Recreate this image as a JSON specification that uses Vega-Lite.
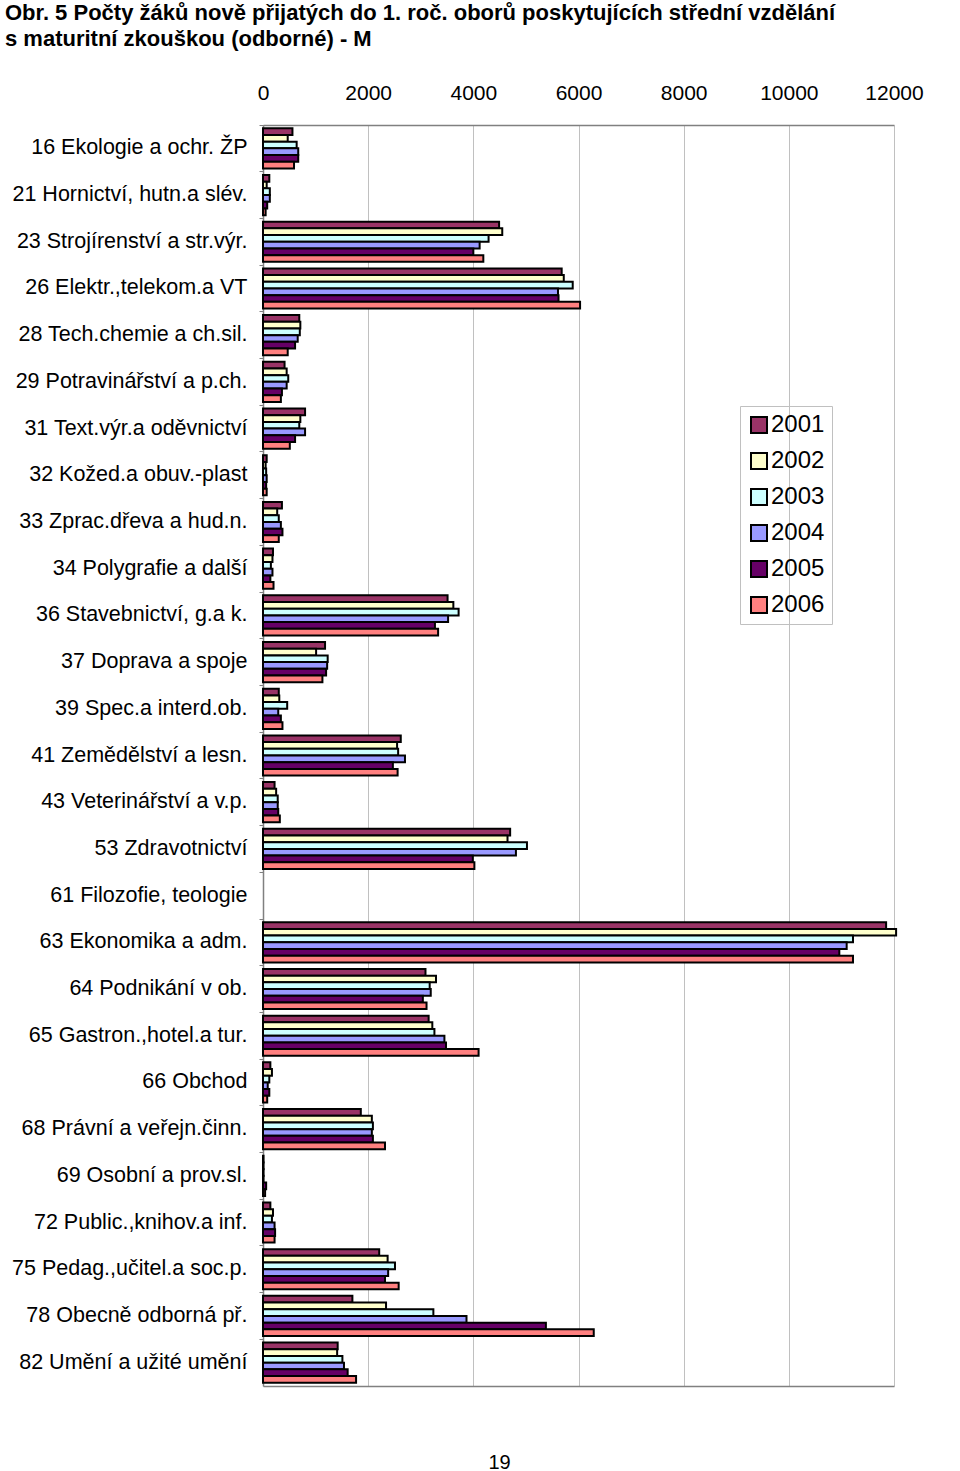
{
  "$schema": "https://vega.github.io/schema/vega-lite/v6.json",
  "width": 631,
  "height": 1261,
  "autosize": {"type": "none"},
  "padding": {"left": 263, "top": 125, "right": 66, "bottom": 85},
  "background": "white",
  "title": {
    "text": ["Obr. 5  Počty žáků nově přijatých do 1. roč. oborů poskytujících střední vzdělání", "s maturitní zkouškou (odborné) - M"],
    "anchor": "start",
    "frame": "group",
    "font": "Liberation Sans",
    "fontSize": 22,
    "fontWeight": "bold",
    "color": "black",
    "lineHeight": 26,
    "dx": -258,
    "offset": 31
  },
  "config": {
    "view": {"stroke": null},
    "axis": {"labelFont": "Liberation Sans", "labelColor": "black", "titleFont": "Liberation Sans"},
    "legend": {"labelFont": "Liberation Sans"}
  },
  "data": {
    "values": [
      {"obor": "16 Ekologie a ochr. ŽP", "rok": "2001", "pocet": 560},
      {"obor": "16 Ekologie a ochr. ŽP", "rok": "2002", "pocet": 470},
      {"obor": "16 Ekologie a ochr. ŽP", "rok": "2003", "pocet": 640},
      {"obor": "16 Ekologie a ochr. ŽP", "rok": "2004", "pocet": 670},
      {"obor": "16 Ekologie a ochr. ŽP", "rok": "2005", "pocet": 670},
      {"obor": "16 Ekologie a ochr. ŽP", "rok": "2006", "pocet": 590},
      {"obor": "21 Hornictví, hutn.a slév.", "rok": "2001", "pocet": 120},
      {"obor": "21 Hornictví, hutn.a slév.", "rok": "2002", "pocet": 70},
      {"obor": "21 Hornictví, hutn.a slév.", "rok": "2003", "pocet": 130},
      {"obor": "21 Hornictví, hutn.a slév.", "rok": "2004", "pocet": 130},
      {"obor": "21 Hornictví, hutn.a slév.", "rok": "2005", "pocet": 80},
      {"obor": "21 Hornictví, hutn.a slév.", "rok": "2006", "pocet": 50},
      {"obor": "23 Strojírenství a str.výr.", "rok": "2001", "pocet": 4490},
      {"obor": "23 Strojírenství a str.výr.", "rok": "2002", "pocet": 4550},
      {"obor": "23 Strojírenství a str.výr.", "rok": "2003", "pocet": 4290},
      {"obor": "23 Strojírenství a str.výr.", "rok": "2004", "pocet": 4120},
      {"obor": "23 Strojírenství a str.výr.", "rok": "2005", "pocet": 4000},
      {"obor": "23 Strojírenství a str.výr.", "rok": "2006", "pocet": 4190},
      {"obor": "26 Elektr.,telekom.a VT", "rok": "2001", "pocet": 5680},
      {"obor": "26 Elektr.,telekom.a VT", "rok": "2002", "pocet": 5720},
      {"obor": "26 Elektr.,telekom.a VT", "rok": "2003", "pocet": 5890},
      {"obor": "26 Elektr.,telekom.a VT", "rok": "2004", "pocet": 5610},
      {"obor": "26 Elektr.,telekom.a VT", "rok": "2005", "pocet": 5620},
      {"obor": "26 Elektr.,telekom.a VT", "rok": "2006", "pocet": 6030},
      {"obor": "28 Tech.chemie a ch.sil.", "rok": "2001", "pocet": 690},
      {"obor": "28 Tech.chemie a ch.sil.", "rok": "2002", "pocet": 710},
      {"obor": "28 Tech.chemie a ch.sil.", "rok": "2003", "pocet": 700},
      {"obor": "28 Tech.chemie a ch.sil.", "rok": "2004", "pocet": 660},
      {"obor": "28 Tech.chemie a ch.sil.", "rok": "2005", "pocet": 610},
      {"obor": "28 Tech.chemie a ch.sil.", "rok": "2006", "pocet": 470},
      {"obor": "29 Potravinářství a p.ch.", "rok": "2001", "pocet": 410},
      {"obor": "29 Potravinářství a p.ch.", "rok": "2002", "pocet": 450},
      {"obor": "29 Potravinářství a p.ch.", "rok": "2003", "pocet": 480},
      {"obor": "29 Potravinářství a p.ch.", "rok": "2004", "pocet": 450},
      {"obor": "29 Potravinářství a p.ch.", "rok": "2005", "pocet": 360},
      {"obor": "29 Potravinářství a p.ch.", "rok": "2006", "pocet": 340},
      {"obor": "31 Text.výr.a oděvnictví", "rok": "2001", "pocet": 800},
      {"obor": "31 Text.výr.a oděvnictví", "rok": "2002", "pocet": 710},
      {"obor": "31 Text.výr.a oděvnictví", "rok": "2003", "pocet": 690},
      {"obor": "31 Text.výr.a oděvnictví", "rok": "2004", "pocet": 800},
      {"obor": "31 Text.výr.a oděvnictví", "rok": "2005", "pocet": 610},
      {"obor": "31 Text.výr.a oděvnictví", "rok": "2006", "pocet": 510},
      {"obor": "32 Kožed.a obuv.-plast", "rok": "2001", "pocet": 70},
      {"obor": "32 Kožed.a obuv.-plast", "rok": "2002", "pocet": 50},
      {"obor": "32 Kožed.a obuv.-plast", "rok": "2003", "pocet": 60},
      {"obor": "32 Kožed.a obuv.-plast", "rok": "2004", "pocet": 70},
      {"obor": "32 Kožed.a obuv.-plast", "rok": "2005", "pocet": 60},
      {"obor": "32 Kožed.a obuv.-plast", "rok": "2006", "pocet": 70},
      {"obor": "33 Zprac.dřeva a hud.n.", "rok": "2001", "pocet": 360},
      {"obor": "33 Zprac.dřeva a hud.n.", "rok": "2002", "pocet": 270},
      {"obor": "33 Zprac.dřeva a hud.n.", "rok": "2003", "pocet": 300},
      {"obor": "33 Zprac.dřeva a hud.n.", "rok": "2004", "pocet": 340},
      {"obor": "33 Zprac.dřeva a hud.n.", "rok": "2005", "pocet": 370},
      {"obor": "33 Zprac.dřeva a hud.n.", "rok": "2006", "pocet": 300},
      {"obor": "34 Polygrafie a další", "rok": "2001", "pocet": 190},
      {"obor": "34 Polygrafie a další", "rok": "2002", "pocet": 180},
      {"obor": "34 Polygrafie a další", "rok": "2003", "pocet": 150},
      {"obor": "34 Polygrafie a další", "rok": "2004", "pocet": 180},
      {"obor": "34 Polygrafie a další", "rok": "2005", "pocet": 140},
      {"obor": "34 Polygrafie a další", "rok": "2006", "pocet": 200},
      {"obor": "36 Stavebnictví, g.a k.", "rok": "2001", "pocet": 3510},
      {"obor": "36 Stavebnictví, g.a k.", "rok": "2002", "pocet": 3620},
      {"obor": "36 Stavebnictví, g.a k.", "rok": "2003", "pocet": 3720},
      {"obor": "36 Stavebnictví, g.a k.", "rok": "2004", "pocet": 3520},
      {"obor": "36 Stavebnictví, g.a k.", "rok": "2005", "pocet": 3270},
      {"obor": "36 Stavebnictví, g.a k.", "rok": "2006", "pocet": 3330},
      {"obor": "37 Doprava a spoje", "rok": "2001", "pocet": 1180},
      {"obor": "37 Doprava a spoje", "rok": "2002", "pocet": 1010},
      {"obor": "37 Doprava a spoje", "rok": "2003", "pocet": 1230},
      {"obor": "37 Doprava a spoje", "rok": "2004", "pocet": 1220},
      {"obor": "37 Doprava a spoje", "rok": "2005", "pocet": 1200},
      {"obor": "37 Doprava a spoje", "rok": "2006", "pocet": 1130},
      {"obor": "39 Spec.a interd.ob.", "rok": "2001", "pocet": 300},
      {"obor": "39 Spec.a interd.ob.", "rok": "2002", "pocet": 310},
      {"obor": "39 Spec.a interd.ob.", "rok": "2003", "pocet": 460},
      {"obor": "39 Spec.a interd.ob.", "rok": "2004", "pocet": 290},
      {"obor": "39 Spec.a interd.ob.", "rok": "2005", "pocet": 340},
      {"obor": "39 Spec.a interd.ob.", "rok": "2006", "pocet": 370},
      {"obor": "41 Zemědělství a lesn.", "rok": "2001", "pocet": 2620},
      {"obor": "41 Zemědělství a lesn.", "rok": "2002", "pocet": 2550},
      {"obor": "41 Zemědělství a lesn.", "rok": "2003", "pocet": 2570},
      {"obor": "41 Zemědělství a lesn.", "rok": "2004", "pocet": 2700},
      {"obor": "41 Zemědělství a lesn.", "rok": "2005", "pocet": 2470},
      {"obor": "41 Zemědělství a lesn.", "rok": "2006", "pocet": 2560},
      {"obor": "43 Veterinářství a v.p.", "rok": "2001", "pocet": 220},
      {"obor": "43 Veterinářství a v.p.", "rok": "2002", "pocet": 250},
      {"obor": "43 Veterinářství a v.p.", "rok": "2003", "pocet": 280},
      {"obor": "43 Veterinářství a v.p.", "rok": "2004", "pocet": 280},
      {"obor": "43 Veterinářství a v.p.", "rok": "2005", "pocet": 290},
      {"obor": "43 Veterinářství a v.p.", "rok": "2006", "pocet": 320},
      {"obor": "53 Zdravotnictví", "rok": "2001", "pocet": 4700},
      {"obor": "53 Zdravotnictví", "rok": "2002", "pocet": 4650},
      {"obor": "53 Zdravotnictví", "rok": "2003", "pocet": 5020},
      {"obor": "53 Zdravotnictví", "rok": "2004", "pocet": 4810},
      {"obor": "53 Zdravotnictví", "rok": "2005", "pocet": 3990},
      {"obor": "53 Zdravotnictví", "rok": "2006", "pocet": 4020},
      {"obor": "63 Ekonomika a adm.", "rok": "2001", "pocet": 11850},
      {"obor": "63 Ekonomika a adm.", "rok": "2002", "pocet": 12040},
      {"obor": "63 Ekonomika a adm.", "rok": "2003", "pocet": 11220},
      {"obor": "63 Ekonomika a adm.", "rok": "2004", "pocet": 11100},
      {"obor": "63 Ekonomika a adm.", "rok": "2005", "pocet": 10960},
      {"obor": "63 Ekonomika a adm.", "rok": "2006", "pocet": 11220},
      {"obor": "64 Podnikání v ob.", "rok": "2001", "pocet": 3090},
      {"obor": "64 Podnikání v ob.", "rok": "2002", "pocet": 3290},
      {"obor": "64 Podnikání v ob.", "rok": "2003", "pocet": 3170},
      {"obor": "64 Podnikání v ob.", "rok": "2004", "pocet": 3190},
      {"obor": "64 Podnikání v ob.", "rok": "2005", "pocet": 3040},
      {"obor": "64 Podnikání v ob.", "rok": "2006", "pocet": 3110},
      {"obor": "65 Gastron.,hotel.a tur.", "rok": "2001", "pocet": 3150},
      {"obor": "65 Gastron.,hotel.a tur.", "rok": "2002", "pocet": 3220},
      {"obor": "65 Gastron.,hotel.a tur.", "rok": "2003", "pocet": 3260},
      {"obor": "65 Gastron.,hotel.a tur.", "rok": "2004", "pocet": 3450},
      {"obor": "65 Gastron.,hotel.a tur.", "rok": "2005", "pocet": 3480},
      {"obor": "65 Gastron.,hotel.a tur.", "rok": "2006", "pocet": 4100},
      {"obor": "66 Obchod", "rok": "2001", "pocet": 140},
      {"obor": "66 Obchod", "rok": "2002", "pocet": 170},
      {"obor": "66 Obchod", "rok": "2003", "pocet": 120},
      {"obor": "66 Obchod", "rok": "2004", "pocet": 90},
      {"obor": "66 Obchod", "rok": "2005", "pocet": 120},
      {"obor": "66 Obchod", "rok": "2006", "pocet": 80},
      {"obor": "68 Právní a veřejn.činn.", "rok": "2001", "pocet": 1860},
      {"obor": "68 Právní a veřejn.činn.", "rok": "2002", "pocet": 2070},
      {"obor": "68 Právní a veřejn.činn.", "rok": "2003", "pocet": 2090},
      {"obor": "68 Právní a veřejn.činn.", "rok": "2004", "pocet": 2070},
      {"obor": "68 Právní a veřejn.činn.", "rok": "2005", "pocet": 2090},
      {"obor": "68 Právní a veřejn.činn.", "rok": "2006", "pocet": 2320},
      {"obor": "69 Osobní a prov.sl.", "rok": "2001", "pocet": 10},
      {"obor": "69 Osobní a prov.sl.", "rok": "2002", "pocet": 10},
      {"obor": "69 Osobní a prov.sl.", "rok": "2003", "pocet": 10},
      {"obor": "69 Osobní a prov.sl.", "rok": "2004", "pocet": 10},
      {"obor": "69 Osobní a prov.sl.", "rok": "2005", "pocet": 60},
      {"obor": "69 Osobní a prov.sl.", "rok": "2006", "pocet": 40},
      {"obor": "72 Public.,knihov.a inf.", "rok": "2001", "pocet": 140},
      {"obor": "72 Public.,knihov.a inf.", "rok": "2002", "pocet": 190},
      {"obor": "72 Public.,knihov.a inf.", "rok": "2003", "pocet": 170},
      {"obor": "72 Public.,knihov.a inf.", "rok": "2004", "pocet": 220},
      {"obor": "72 Public.,knihov.a inf.", "rok": "2005", "pocet": 230},
      {"obor": "72 Public.,knihov.a inf.", "rok": "2006", "pocet": 220},
      {"obor": "75 Pedag.,učitel.a soc.p.", "rok": "2001", "pocet": 2210},
      {"obor": "75 Pedag.,učitel.a soc.p.", "rok": "2002", "pocet": 2370},
      {"obor": "75 Pedag.,učitel.a soc.p.", "rok": "2003", "pocet": 2510},
      {"obor": "75 Pedag.,učitel.a soc.p.", "rok": "2004", "pocet": 2380},
      {"obor": "75 Pedag.,učitel.a soc.p.", "rok": "2005", "pocet": 2320},
      {"obor": "75 Pedag.,učitel.a soc.p.", "rok": "2006", "pocet": 2580},
      {"obor": "78 Obecně odborná př.", "rok": "2001", "pocet": 1700},
      {"obor": "78 Obecně odborná př.", "rok": "2002", "pocet": 2340},
      {"obor": "78 Obecně odborná př.", "rok": "2003", "pocet": 3240},
      {"obor": "78 Obecně odborná př.", "rok": "2004", "pocet": 3870},
      {"obor": "78 Obecně odborná př.", "rok": "2005", "pocet": 5380},
      {"obor": "78 Obecně odborná př.", "rok": "2006", "pocet": 6290},
      {"obor": "82 Umění a užité umění", "rok": "2001", "pocet": 1420},
      {"obor": "82 Umění a užité umění", "rok": "2002", "pocet": 1410},
      {"obor": "82 Umění a užité umění", "rok": "2003", "pocet": 1510},
      {"obor": "82 Umění a užité umění", "rok": "2004", "pocet": 1540},
      {"obor": "82 Umění a užité umění", "rok": "2005", "pocet": 1610},
      {"obor": "82 Umění a užité umění", "rok": "2006", "pocet": 1770}
    ]
  },
  "layer": [
    {
      "mark": {"type": "bar", "stroke": "black", "strokeWidth": 2},
      "encoding": {
        "y": {
          "field": "obor",
          "type": "nominal",
          "scale": {
            "domain": ["16 Ekologie a ochr. ŽP", "21 Hornictví, hutn.a slév.", "23 Strojírenství a str.výr.", "26 Elektr.,telekom.a VT", "28 Tech.chemie a ch.sil.", "29 Potravinářství a p.ch.", "31 Text.výr.a oděvnictví", "32 Kožed.a obuv.-plast", "33 Zprac.dřeva a hud.n.", "34 Polygrafie a další", "36 Stavebnictví, g.a k.", "37 Doprava a spoje", "39 Spec.a interd.ob.", "41 Zemědělství a lesn.", "43 Veterinářství a v.p.", "53 Zdravotnictví", "61 Filozofie, teologie", "63 Ekonomika a adm.", "64 Podnikání v ob.", "65 Gastron.,hotel.a tur.", "66 Obchod", "68 Právní a veřejn.činn.", "69 Osobní a prov.sl.", "72 Public.,knihov.a inf.", "75 Pedag.,učitel.a soc.p.", "78 Obecně odborná př.", "82 Umění a užité umění"],
            "paddingInner": 0.14,
            "paddingOuter": 0.07
          },
          "axis": {
            "title": null,
            "labelFontSize": 21.5,
            "labelPadding": 12,
            "labelLimit": 0,
            "tickSize": 4,
            "tickColor": "#808080",
            "domainColor": "#808080",
            "domainWidth": 1.5,
            "bandPosition": -0.08
          }
        },
        "yOffset": {"field": "rok", "type": "nominal", "scale": {"paddingInner": 0, "paddingOuter": 0}},
        "x": {
          "field": "pocet",
          "type": "quantitative",
          "scale": {"domain": [0, 12000], "nice": false},
          "axis": {
            "orient": "top",
            "title": null,
            "values": [0, 2000, 4000, 6000, 8000, 10000, 12000],
            "format": "d",
            "labelFontSize": 21,
            "labelPadding": 22,
            "ticks": false,
            "grid": true,
            "gridColor": "#c0c0c0",
            "domainColor": "#808080",
            "domainWidth": 1.5,
            "labelFlush": false
          }
        },
        "color": {
          "field": "rok",
          "type": "nominal",
          "scale": {
            "domain": ["2001", "2002", "2003", "2004", "2005", "2006"],
            "range": ["#993366", "#FFFFCC", "#CCFFFF", "#9999FF", "#660066", "#FF8080"]
          },
          "legend": {
            "title": null,
            "orient": "none",
            "legendX": 477,
            "legendY": 281,
            "strokeColor": "#c0c0c0",
            "padding": 7,
            "labelFontSize": 24,
            "labelColor": "black",
            "labelOffset": 0,
            "symbolType": "square",
            "symbolSize": 256,
            "symbolStrokeColor": "black",
            "symbolStrokeWidth": 2,
            "symbolOpacity": 1,
            "rowPadding": 12
          }
        }
      }
    },
    {
      "mark": {"type": "point", "opacity": 0},
      "encoding": {
        "x": {
          "field": "pocet",
          "type": "quantitative",
          "axis": {
            "orient": "bottom",
            "labels": false,
            "ticks": false,
            "grid": false,
            "domainColor": "#808080",
            "domainWidth": 1.5,
            "title": "19",
            "titleFontSize": 20,
            "titleFontWeight": "normal",
            "titleColor": "black",
            "titleX": 236,
            "titleBaseline": "top",
            "titlePadding": 66
          }
        }
      }
    }
  ],
  "resolve": {"axis": {"x": "independent"}}
}
